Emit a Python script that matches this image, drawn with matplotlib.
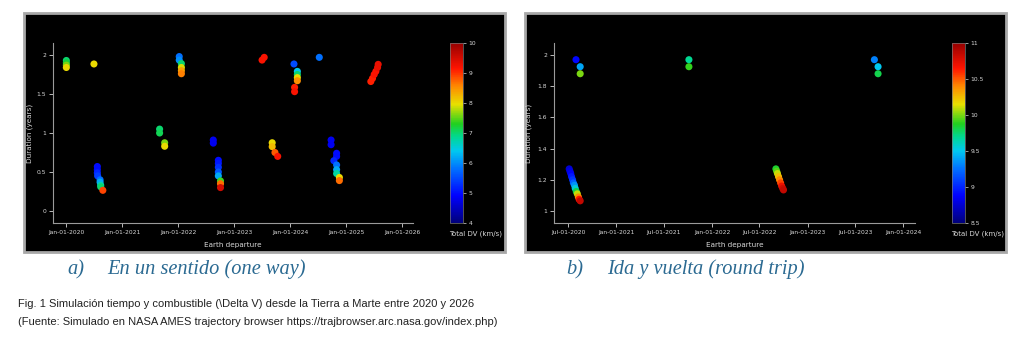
"""
Mars trajectory browser scatter: one way vs round trip (duration vs departure, coloured by total DV).
"""
from datetime import datetime

import matplotlib
matplotlib.use("Agg")
import matplotlib.pyplot as plt
import matplotlib.dates as mdates
from matplotlib.colors import LinearSegmentedColormap
from matplotlib.patches import Rectangle

# ---- data: one way -------------------------------------------------------
ow_dates = [
    "2020-01-03", "2020-01-03", "2020-01-03", "2020-01-03",
    "2020-07-01",
    "2020-07-23", "2020-07-23", "2020-07-23", "2020-07-25", "2020-08-10", "2020-08-10",
    "2020-08-14", "2020-08-14", "2020-08-28",
    "2021-09-02", "2021-09-02", "2021-10-05", "2021-10-05",
    "2022-01-08", "2022-01-08", "2022-01-22", "2022-01-22", "2022-01-22", "2022-01-22",
    "2022-08-18", "2022-08-18", "2022-09-20", "2022-09-20", "2022-09-20", "2022-09-20",
    "2022-09-20", "2022-10-04", "2022-10-04", "2022-10-04",
    "2023-07-02", "2023-07-16",
    "2023-09-06", "2023-09-06", "2023-09-24", "2023-10-12",
    "2024-01-26", "2024-02-17", "2024-02-17", "2024-02-17", "2024-02-17",
    "2024-01-30", "2024-01-30",
    "2024-07-09",
    "2024-09-24", "2024-09-24", "2024-10-30", "2024-10-30", "2024-10-12", "2024-10-30",
    "2024-10-30", "2024-10-30", "2024-11-17", "2024-11-17",
    "2025-06-10", "2025-06-21", "2025-07-02", "2025-07-13", "2025-07-24", "2025-07-28",
]
ow_duration = [
    1.93, 1.90, 1.87, 1.84,
    1.885,
    0.57, 0.53, 0.49, 0.45, 0.40, 0.37,
    0.33, 0.31, 0.265,
    1.05, 1.00, 0.875, 0.83,
    1.98, 1.935, 1.89, 1.84, 1.80, 1.76,
    0.91, 0.87, 0.65, 0.61, 0.56, 0.50,
    0.45, 0.385, 0.35, 0.30,
    1.935, 1.97,
    0.875, 0.825, 0.75, 0.70,
    1.885, 1.79, 1.75, 1.71, 1.67,
    1.585, 1.53,
    1.97,
    0.91, 0.85, 0.74, 0.70, 0.645, 0.59,
    0.53, 0.48, 0.43, 0.39,
    1.66, 1.70, 1.75, 1.79, 1.84, 1.88,
]
ow_dv = [
    7.0, 7.2, 7.6, 8.0,
    8.0,
    5.0, 5.0, 5.2, 5.4, 5.8, 6.2,
    6.7, 7.0, 8.9,
    7.0, 7.1, 7.6, 8.0,
    5.8, 6.0, 7.0, 7.9, 8.4, 8.6,
    4.8, 4.8, 5.0, 5.1, 5.3, 5.6,
    6.2, 7.4, 8.7, 9.5,
    9.2, 9.2,
    8.0, 8.2, 8.8, 9.2,
    5.5, 6.4, 7.0, 8.0, 8.5,
    9.1, 9.2,
    5.8,
    4.8, 4.8, 5.0, 5.0, 5.2, 5.8,
    6.2, 6.8, 8.0, 8.7,
    9.1, 9.1, 9.2, 9.2, 9.3, 9.3,
]

# ---- data: round trip ----------------------------------------------------
rt_dates = [
    "2020-07-31", "2020-08-16", "2020-08-16",
    "2020-07-05", "2020-07-08", "2020-07-11", "2020-07-14", "2020-07-18", "2020-07-21",
    "2020-07-25", "2020-07-28", "2020-08-01", "2020-08-05", "2020-08-09", "2020-08-12",
    "2020-08-16",
    "2021-10-05", "2021-10-05",
    "2022-09-02", "2022-09-05", "2022-09-08", "2022-09-12", "2022-09-16", "2022-09-20",
    "2022-09-24", "2022-09-28", "2022-10-01",
    "2023-09-13", "2023-09-27", "2023-09-27",
]
rt_duration = [
    1.97, 1.925, 1.88,
    1.27, 1.255, 1.24, 1.22, 1.20, 1.18,
    1.165, 1.145, 1.125, 1.11, 1.09, 1.075,
    1.065,
    1.97, 1.925,
    1.27, 1.255, 1.24, 1.22, 1.20, 1.18,
    1.16, 1.145, 1.135,
    1.97, 1.925, 1.88,
]
rt_dv = [
    8.9, 9.4, 10.0,
    8.75, 8.8, 8.85, 8.95, 9.05, 9.2,
    9.35, 9.55, 9.8, 10.1, 10.4, 10.65,
    10.85,
    9.7, 9.9,
    9.85, 9.95, 10.1, 10.25, 10.4, 10.55,
    10.7, 10.8, 10.85,
    9.3, 9.5, 9.8,
]

ow_xticks = ["2020-01-01", "2021-01-01", "2022-01-01", "2023-01-01",
             "2024-01-01", "2025-01-01", "2026-01-01"]
rt_xticks = ["2020-07-01", "2021-01-01", "2021-07-01", "2022-01-01",
             "2022-07-01", "2023-01-01", "2023-07-01", "2024-01-01"]

W, H = 1024, 351
TXT = "#d8d8d8"
CAPTION_BLUE = "#2b6a92"

# rainbow like the trajectory browser's scale (navy -> blue -> cyan -> green -> yellow -> red)
DV_CMAP = LinearSegmentedColormap.from_list("dv", [
    (0.00, "#00007a"), (0.15, "#0000ff"), (0.30, "#0070ff"), (0.40, "#00c8f0"),
    (0.48, "#00d890"), (0.55, "#20d020"), (0.66, "#e8e000"), (0.76, "#ff8a00"),
    (0.86, "#ff1400"), (1.00, "#960000"),
])


def to_dt(vals):
    return [datetime.strptime(v, "%Y-%m-%d") for v in vals]


def px_rect(x0, y0, x1, y1):
    """pixel box (top-left origin) -> figure fraction [l, b, w, h]"""
    return [x0 / W, 1 - y1 / H, (x1 - x0) / W, (y1 - y0) / H]


def panel(fig, box, ax_box, cb_box, dates, dur, dv, vmin, vmax,
          xlim, ylim, yticks, cbticks, xticks, ylab_x):
    l, b, w, h = px_rect(*box)
    fig.patches.append(Rectangle((l, b), w, h, transform=fig.transFigure,
                                 facecolor="black", edgecolor="#a8a8a8",
                                 linewidth=2.0, zorder=-5))
    ax = fig.add_axes(px_rect(*ax_box), zorder=2)
    ax.patch.set_alpha(0.0)
    sc = ax.scatter(to_dt(dates), dur, c=dv, cmap=DV_CMAP, vmin=vmin, vmax=vmax,
                    s=26, edgecolors="none", zorder=3)
    ax.set_xlim(to_dt(xlim))
    ax.set_ylim(*ylim)
    ax.set_yticks(yticks)
    ax.set_yticklabels([f"{t:g}" for t in yticks])
    ax.set_xticks(to_dt(xticks))
    ax.xaxis.set_major_formatter(mdates.DateFormatter("%b-%d-%Y"))
    for side in ("top", "right"):
        ax.spines[side].set_visible(False)
    for side in ("left", "bottom"):
        ax.spines[side].set_color("#9a9a9a")
        ax.spines[side].set_linewidth(0.8)
    ax.tick_params(colors=TXT, labelsize=4.3, length=3, width=0.6, pad=2)
    ax.set_xlabel("Earth departure", color=TXT, fontsize=5.2)
    ax.set_ylabel("Duration (years)", color=TXT, fontsize=5.2)
    ax.xaxis.set_label_coords(0.5, -19 / 180)
    ax.yaxis.set_label_coords((ylab_x - ax_box[0]) / (ax_box[2] - ax_box[0]), 0.5)

    cax = fig.add_axes(px_rect(*cb_box), zorder=2)
    cb = fig.colorbar(sc, cax=cax)
    cb.set_ticks(cbticks)
    cb.set_ticklabels([f"{t:g}" for t in cbticks])
    cb.outline.set_edgecolor("#777777")
    cb.outline.set_linewidth(0.5)
    cax.tick_params(colors=TXT, labelsize=4.3, length=2, width=0.5, pad=2)
    cx = (cb_box[0] + cb_box[2]) / 2 + 19
    fig.text(cx / W, 1 - 234 / H, "Total DV (km/s)", color=TXT, fontsize=5.0,
             ha="center", va="center", zorder=3)
    return ax


fig = plt.figure(figsize=(W / 100, H / 100), dpi=100)
fig.patch.set_facecolor("white")

panel(fig, (24, 13, 505, 252), (53, 43, 413, 223), (450, 43, 463, 223),
      ow_dates, ow_duration, ow_dv, 4, 10,
      ("2019-10-08", "2026-03-12"), (-0.154, 2.154),
      [0, 0.5, 1, 1.5, 2], [4, 5, 6, 7, 8, 9, 10], ow_xticks, ylab_x=33)

panel(fig, (525, 13, 1006, 252), (554, 43, 915, 223), (952, 43, 965, 223),
      rt_dates, rt_duration, rt_dv, 8.5, 11,
      ("2020-05-08", "2024-02-15"), (0.923, 2.077),
      [1, 1.2, 1.4, 1.6, 1.8, 2], [8.5, 9, 9.5, 10, 10.5, 11], rt_xticks, ylab_x=532)

cap_font = dict(family="Liberation Serif", style="italic", fontsize=14.7,
                color=CAPTION_BLUE, va="baseline")
fig.text(67 / W, 1 - 274 / H, "a)", **cap_font)
fig.text(107 / W, 1 - 274 / H, "En un sentido (one way)", **cap_font)
fig.text(566 / W, 1 - 274 / H, "b)", **cap_font)
fig.text(607 / W, 1 - 274 / H, "Ida y vuelta (round trip)", **cap_font)

fig_font = dict(family="Liberation Sans", fontsize=8.0, color="#222222", va="baseline")
fig.text(18 / W, 1 - 307 / H,
         "Fig. 1 Simulación tiempo y combustible (\\Delta V) desde la Tierra a Marte entre 2020 y 2026",
         **fig_font)
fig.text(18 / W, 1 - 325 / H,
         "(Fuente: Simulado en NASA AMES trajectory browser https://trajbrowser.arc.nasa.gov/index.php)",
         **fig_font)

fig.savefig("out.png", dpi=100, facecolor=fig.get_facecolor())
